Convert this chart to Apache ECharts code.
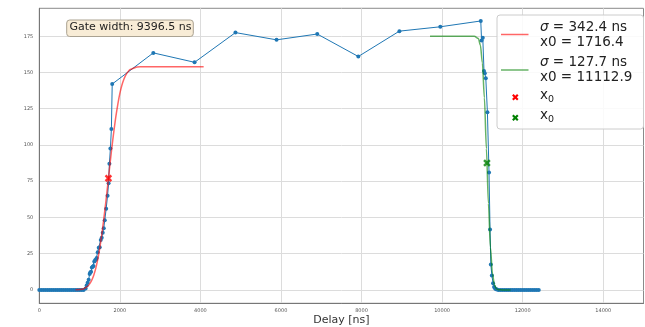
<!DOCTYPE html>
<html>
<head>
<meta charset="utf-8">
<script src="https://cdn.jsdelivr.net/npm/echarts@6/dist/echarts.min.js"></script>
<style>
  html, body { margin: 0; padding: 0; background: #ffffff; }
  #chart { width: 645px; height: 327px; }
</style>
</head>
<body>
<div id="chart"></div>
<script>
// Measured signal vs. delay (ns)
const delayNs = [
  0, 50, 100, 150, 200, 250, 300, 350, 400, 450, 500, 550, 600, 650, 700, 750, 800, 850, 900, 950, 1000, 1050, 1100,
  1150, 1175, 1200, 1225, 1250, 1265, 1285, 1305, 1325, 1345, 1365, 1385, 1405, 1425, 1450, 1475, 1500, 1525, 1550,
  1575, 1600, 1625, 1660, 1695, 1720, 1740, 1765, 1790, 1810,
  2830, 3855, 4870, 5890, 6900, 7920, 8940, 9955, 10960,
  10980, 11010, 11040, 11060, 11085, 11125, 11165, 11190, 11210, 11235, 11265, 11290, 11315, 11340, 11365, 11400,
  11450, 11500, 11550, 11600, 11650, 11700, 11750, 11800, 11850, 11900, 11950, 12000, 12050, 12100, 12150, 12200,
  12250, 12300, 12350, 12400
];
const signal = [
  0, 0, 0, 0, 0, 0, 0, 0, 0, 0, 0, 0, 0, 0, 0, 0, 0, 0, 0, 0, 0, 0, 0,
  1, 3, 5, 7, 11, 12, 12.5, 15.5, 16, 16.5, 19.5, 20.5, 21, 22, 26, 29, 29.5, 34.5, 36,
  39.5, 42.5, 48, 56, 65, 73.5, 87, 97.5, 111, 142,
  163.5, 157, 177.5, 172.5, 176.5, 161, 178.5, 181.5, 185.5,
  172, 174, 151, 149.5, 146, 122.5, 81, 41.7, 17.5, 10, 4.6, 2, 1, 0.4, 0.2, 0,
  0, 0, 0, 0, 0, 0, 0, 0, 0, 0, 0, 0, 0, 0, 0, 0,
  0, 0, 0, 0
];

// Rising-edge fit (sigma = 342.4 ns, x0 = 1716.4)
const riseFitX = [900, 1000, 1100, 1200, 1250, 1300, 1350, 1400, 1450, 1500, 1550, 1600, 1650, 1700, 1750, 1800, 1850,
  1900, 1950, 2000, 2050, 2100, 2150, 2200, 2250, 2300, 2400, 2500, 2600, 4080];
const riseFitY = [0.1, 0.2, 0.8, 2.5, 4.2, 6.6, 10.0, 14.7, 20.9, 28.6, 37.9, 48.6, 60.3, 72.8, 85.5, 97.8, 109.2,
  119.5, 128.2, 135.5, 141.2, 145.3, 148.3, 150.4, 151.9, 152.5, 153.6, 153.9, 154, 154];

// Falling-edge fit (sigma = 127.7 ns, x0 = 11112.9)
const fallFitX = [9700, 10700, 10800, 10900, 10950, 11000, 11050, 11100, 11150, 11200, 11250, 11300, 11350, 11400, 11500, 11700];
const fallFitY = [175, 175, 174.9, 173.4, 168.9, 156.5, 132.5, 97.4, 59.6, 29.3, 11.3, 3.3, 0.8, 0.1, 0, 0];

// Fitted edge centres
const riseX0 = [1716.4, 77];
const fallX0 = [11112.9, 87.5];
const sigmaRise = '342.4';
const sigmaFall = '127.7';
const x0RiseLabel = '1716.4';
const x0FallLabel = '11112.9';
const gateWidth = '9396.5';

const xTicks = [0, 2000, 4000, 6000, 8000, 10000, 12000, 14000];
const yTicks = [0, 25, 50, 75, 100, 125, 150, 175];

const FONT = 'DejaVu Sans';
const BLUE = '#1f77b4';
const RED = 'rgba(255,0,0,0.6)';
const GREEN = 'rgba(0,128,0,0.6)';
// bold filled "X" outline on a 6x6 box
const X_PTS = [[0,1.4],[1.4,0],[3,1.6],[4.6,0],[6,1.4],[4.4,3],[6,4.6],[4.6,6],[3,4.4],[1.4,6],[0,4.6],[1.6,3]];
const XMARK = 'path://M' + X_PTS.map(p => p[0] + ',' + p[1]).join(' L') + ' Z';

const zip = (xs, ys) => xs.map((x, i) => [x, ys[i]]);

// X glyph as polygon points, centred at (cx, cy)
function xGlyph(cx, cy, size) {
  const k = size / 6;
  return X_PTS.map(p => [cx + (p[0] - 3) * k, cy + (p[1] - 3) * k]);
}

const chart = echarts.init(document.getElementById('chart'), null, { renderer: 'canvas' });

const gridLeft = 39.3, gridTop = 8.3, gridRight = 1.5, gridBottom = 23.7;
const legendFont = '13.5px "DejaVu Sans"';

chart.setOption({
  animation: false,
  backgroundColor: '#ffffff',
  textStyle: { fontFamily: FONT },
  grid: {
    left: gridLeft, top: gridTop, right: gridRight, bottom: gridBottom,
    outerBoundsMode: 'none', containLabel: false,
    show: true, borderColor: '#8a8a8a', borderWidth: 1, backgroundColor: 'transparent'
  },
  xAxis: {
    type: 'value', min: 0, max: 15000, interval: 2000,
    name: 'Delay [ns]', nameLocation: 'middle', nameGap: 11, nameMoveOverlap: false,
    nameTextStyle: { fontFamily: FONT, fontSize: 11, color: '#333333', verticalAlign: 'top' },
    axisLine: { show: true, onZero: false, lineStyle: { color: '#777777', width: 1 } },
    axisTick: { show: false, customValues: xTicks },
    axisLabel: {
      fontFamily: FONT, fontSize: 5, color: '#555555', margin: 5,
      customValues: xTicks, formatter: v => String(v)
    },
    splitLine: { show: true, lineStyle: { color: '#dcdcdc', width: 1 } }
  },
  yAxis: {
    type: 'value', min: -9.25, max: 194.25,
    axisLine: { show: true, onZero: false, lineStyle: { color: '#777777', width: 1 } },
    axisTick: { show: false, customValues: yTicks },
    axisLabel: { fontFamily: FONT, fontSize: 5, color: '#555555', margin: 6, customValues: yTicks },
    splitLine: { show: true, lineStyle: { color: '#dcdcdc', width: 1 } }
  },
  series: [
    {
      name: 'signal', type: 'line', data: zip(delayNs, signal),
      symbol: 'circle', symbolSize: 4, showAllSymbol: true,
      itemStyle: { color: BLUE }, lineStyle: { color: BLUE, width: 1 }, z: 2
    },
    {
      name: 'rise fit', type: 'line', data: zip(riseFitX, riseFitY),
      symbol: 'none', smooth: 0.2,
      lineStyle: { color: RED, width: 1.5 }, z: 3
    },
    {
      name: 'fall fit', type: 'line', data: zip(fallFitX, fallFitY),
      symbol: 'none', smooth: 0.3, smoothMonotone: 'x',
      lineStyle: { color: GREEN, width: 1.5 }, z: 3
    },
    {
      name: 'x0 rise', type: 'scatter', data: [riseX0],
      symbol: XMARK, symbolSize: 7.5, itemStyle: { color: '#ff0000' }, z: 4
    },
    {
      name: 'x0 fall', type: 'scatter', data: [fallX0],
      symbol: XMARK, symbolSize: 7.5, itemStyle: { color: '#008000' }, z: 4
    }
  ],
  graphic: [
    // gate width annotation
    {
      type: 'rect', z: 10,
      shape: { x: 66.7, y: 20, width: 126.6, height: 16.5, r: 3 },
      style: { fill: '#f8ecd6', stroke: '#aaa291', lineWidth: 1 }
    },
    {
      type: 'text', x: 69.5, y: 22, z: 11,
      style: { text: 'Gate width: ' + gateWidth + ' ns', font: '11px "DejaVu Sans"', fill: '#222222' }
    },
    // legend box
    {
      type: 'rect', z: 10,
      shape: { x: 497, y: 15, width: 146.5, height: 114, r: 3 },
      style: { fill: 'rgba(255,255,255,0.85)', stroke: '#cccccc', lineWidth: 1 }
    },
    { type: 'line', z: 11, shape: { x1: 501, y1: 34.5, x2: 528.5, y2: 34.5 }, style: { stroke: RED, lineWidth: 1.5 } },
    { type: 'line', z: 11, shape: { x1: 501, y1: 70, x2: 528.5, y2: 70 }, style: { stroke: GREEN, lineWidth: 1.5 } },
    {
      type: 'text', x: 540, y: 20, z: 11,
      style: {
        text: '{s|σ} = ' + sigmaRise + ' ns\nx0 = ' + x0RiseLabel,
        font: legendFont, fill: '#222222', lineHeight: 15,
        rich: { s: { fontStyle: 'italic', fontSize: 13.5, fontFamily: FONT, fill: '#222222' } }
      }
    },
    {
      type: 'text', x: 540, y: 55, z: 11,
      style: {
        text: '{s|σ} = ' + sigmaFall + ' ns\nx0 = ' + x0FallLabel,
        font: legendFont, fill: '#222222', lineHeight: 15,
        rich: { s: { fontStyle: 'italic', fontSize: 13.5, fontFamily: FONT, fill: '#222222' } }
      }
    },
    { type: 'polygon', z: 11, shape: { points: xGlyph(515.3, 97.3, 6.5) }, style: { fill: '#ff0000' } },
    { type: 'polygon', z: 11, shape: { points: xGlyph(515.3, 117.7, 6.5) }, style: { fill: '#008000' } },
    { type: 'text', x: 540, y: 88, z: 11, style: { text: 'x', font: legendFont, fill: '#222222' } },
    { type: 'text', x: 548, y: 95, z: 11, style: { text: '0', font: '9.5px "DejaVu Sans"', fill: '#222222' } },
    { type: 'text', x: 540, y: 108, z: 11, style: { text: 'x', font: legendFont, fill: '#222222' } },
    { type: 'text', x: 548, y: 115, z: 11, style: { text: '0', font: '9.5px "DejaVu Sans"', fill: '#222222' } }
  ]
});
</script>
</body>
</html>
